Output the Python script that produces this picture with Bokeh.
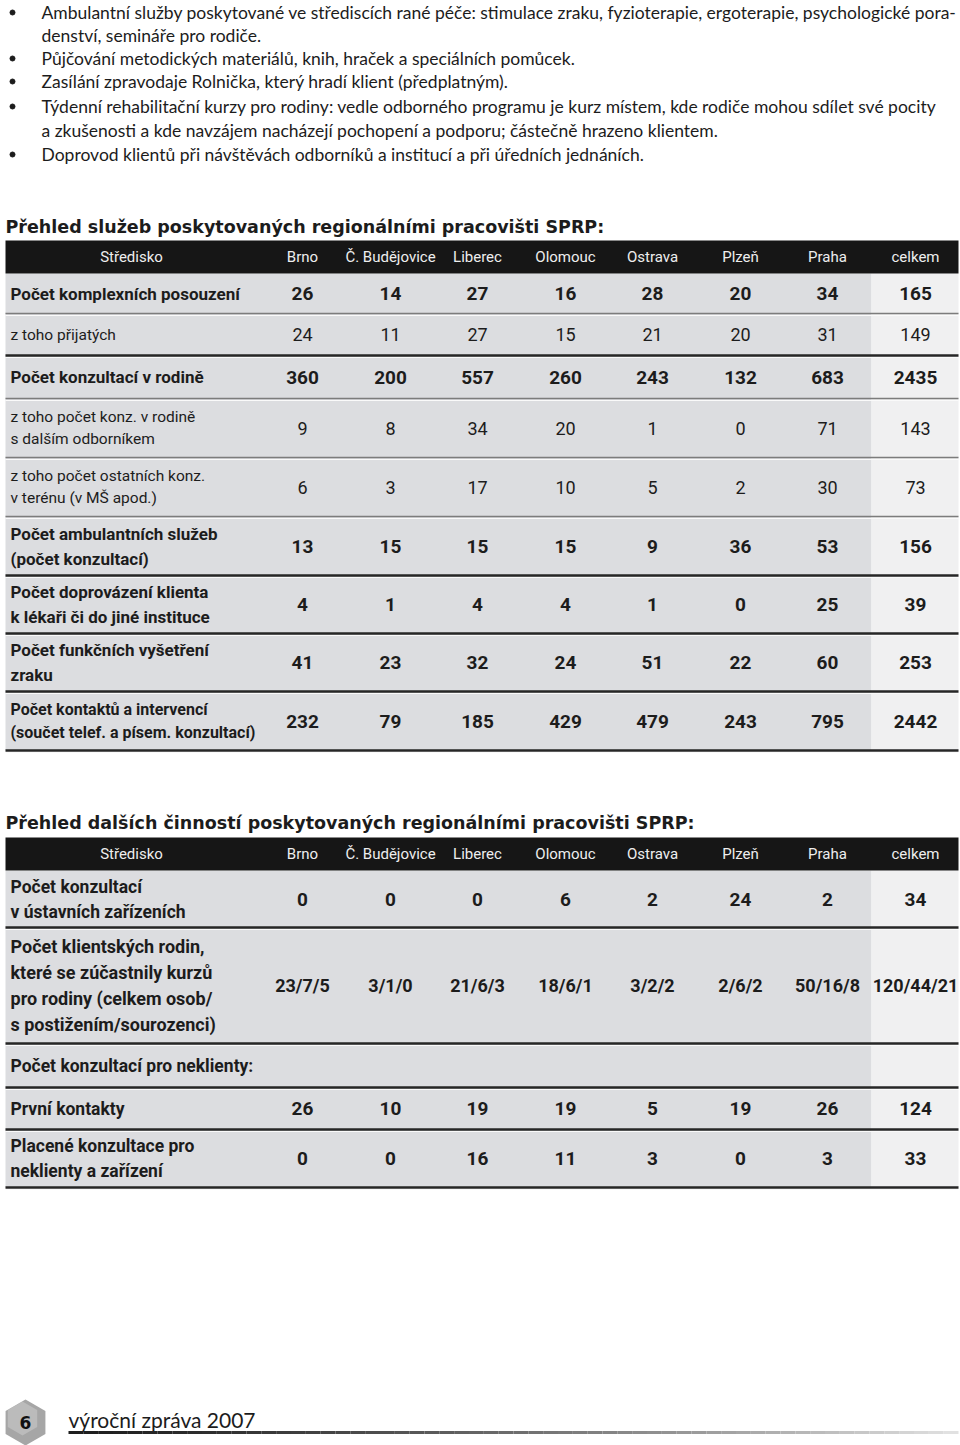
from bokeh.plotting import figure
from bokeh.models import Range1d, ColumnDataSource
from bokeh.core.properties import value
from bokeh.embed import file_html
from bokeh.resources import INLINE
import math

# ---------------- data ----------------
bullet_lines = [
    "Ambulantní služby poskytované ve střediscích rané péče: stimulace zraku, fyzioterapie, ergoterapie, psychologické pora-",
    "denství, semináře pro rodiče.",
    "Půjčování metodických materiálů, knih, hraček a speciálních pomůcek.",
    "Zasílání zpravodaje Rolnička, který hradí klient (předplatným).",
    "Týdenní rehabilitační kurzy pro rodiny: vedle odborného programu je kurz místem, kde rodiče mohou sdílet své pocity",
    "a zkušenosti a kde navzájem nacházejí pochopení a podporu; částečně hrazeno klientem.",
    "Doprovod klientů při návštěvách odborníků a institucí a při úředních jednáních.",
]
bullet_flags = [True, False, True, True, True, False, True]

title1 = "Přehled služeb poskytovaných regionálními pracovišti SPRP:"
title2 = "Přehled dalších činností poskytovaných regionálními pracovišti SPRP:"
header_first = "Středisko"
centres = ["Brno", "Č. Budějovice", "Liberec", "Olomouc", "Ostrava", "Plzeň", "Praha", "celkem"]

t1_labels = [
    "Počet komplexních posouzení",
    "z toho přijatých",
    "Počet konzultací v rodině",
    "z toho počet konz. v rodině\ns dalším odborníkem",
    "z toho počet ostatních konz.\nv terénu (v MŠ apod.)",
    "Počet ambulantních služeb\n(počet konzultací)",
    "Počet doprovázení klienta\nk lékaři či do jiné instituce",
    "Počet funkčních vyšetření\nzraku",
    "Počet kontaktů a intervencí\n(součet telef. a písem. konzultací)",
]
t1_bold = [True, False, True, False, False, True, True, True, True]
t1_values = [
    ["26", "14", "27", "16", "28", "20", "34", "165"],
    ["24", "11", "27", "15", "21", "20", "31", "149"],
    ["360", "200", "557", "260", "243", "132", "683", "2435"],
    ["9", "8", "34", "20", "1", "0", "71", "143"],
    ["6", "3", "17", "10", "5", "2", "30", "73"],
    ["13", "15", "15", "15", "9", "36", "53", "156"],
    ["4", "1", "4", "4", "1", "0", "25", "39"],
    ["41", "23", "32", "24", "51", "22", "60", "253"],
    ["232", "79", "185", "429", "479", "243", "795", "2442"],
]

t2_labels = [
    "Počet konzultací\nv ústavních zařízeních",
    "Počet klientských rodin,\nkteré se zúčastnily kurzů\npro rodiny (celkem osob/\ns postižením/sourozenci)",
    "Počet konzultací pro neklienty:",
    "První kontakty",
    "Placené konzultace pro\nneklienty a zařízení",
]
t2_values = [
    ["0", "0", "0", "6", "2", "24", "2", "34"],
    ["23/7/5", "3/1/0", "21/6/3", "18/6/1", "3/2/2", "2/6/2", "50/16/8", "120/44/21"],
    [],
    ["26", "10", "19", "19", "5", "19", "26", "124"],
    ["0", "0", "16", "11", "3", "0", "3", "33"],
]

footer_page = "6"
footer_text = "výroční zpráva 2007"

# ---------------- layout / style ----------------
BODY = value("Lato")
COND = value("Roboto")
HEAD = value("DejaVu Sans")
INK = "#1c1c1c"
GRAY = "#dcdde0"
LIGHT = "#f0f0f1"

X0, X1, XC = 5, 958, 871
LABEL_X = 10
COL_X = [302, 390, 477, 565, 652, 740, 827, 915]

p = figure(width=960, height=1445, x_range=Range1d(0, 960), y_range=Range1d(1445, 0),
           output_backend="svg", toolbar_location=None, min_border=0)
p.axis.visible = False
p.grid.visible = False
p.outline_line_color = None
p.background_fill_color = "white"
p.border_fill_color = "white"

# bullets
line_y = [12, 35, 58, 81, 106, 130, 154]
p.text(x=[41] * len(bullet_lines), y=line_y, text=bullet_lines, text_font=BODY,
       text_font_size="17.5px", text_baseline="middle", text_align="left", text_color=INK)
by = [y for y, f in zip(line_y, bullet_flags) if f]
p.scatter(x=[12] * len(by), y=by, size=5, color=INK)


def table(title, title_y, head_top, head_bot, bounds, labels, values, bold, thick,
          label_sizes, value_sizes):
    p.text(x=[5], y=[title_y], text=[title], text_font=HEAD, text_font_style="bold",
           text_font_size="17.5px", text_baseline="middle", text_color=INK)
    top, bot = bounds[0], bounds[-1]
    p.quad(left=[X0], right=[XC], top=[top], bottom=[bot], fill_color=GRAY, line_color=None)
    p.quad(left=[XC], right=[X1], top=[top], bottom=[bot], fill_color=LIGHT, line_color=None)
    p.quad(left=[X0], right=[X1], top=[head_top], bottom=[head_bot], fill_color="#161616", line_color=None)
    hy = (head_top + head_bot) / 2
    p.text(x=[131] + COL_X, y=[hy] * 9, text=[header_first] + centres, text_font=COND,
           text_font_size="15px", text_baseline="middle", text_align="center", text_color="#eeeeee")
    for i, lab in enumerate(labels):
        cy = (bounds[i] + bounds[i + 1]) / 2
        style = "bold" if bold[i] else "normal"
        p.text(x=[LABEL_X], y=[cy], text=[lab], text_font=COND, text_font_style=style,
               text_font_size=label_sizes[i], text_baseline="middle",
               text_align="left", text_color=INK, text_line_height=1.25)
        if values[i]:
            src = ColumnDataSource(dict(x=COL_X, y=[cy] * len(values[i]), t=values[i]))
            p.text(x="x", y="y", text="t", source=src, text_font=COND, text_font_style=style,
                   text_font_size=value_sizes[i], text_baseline="middle",
                   text_align="center", text_color=INK)
        yb = bounds[i + 1]
        if thick[i]:
            p.segment(x0=[X0], x1=[X1], y0=[yb], y1=[yb], line_color="#262626", line_width=2.5)
        else:
            p.segment(x0=[X0], x1=[X1], y0=[yb], y1=[yb], line_color="#7c7c7c", line_width=1.5)
        p.segment(x0=[X0], x1=[X1], y0=[yb + 2], y1=[yb + 2], line_color="#fafafa", line_width=1)


table(title1, 226, 240, 273, [273, 313, 355, 398, 457, 516, 575, 633, 691, 750],
      t1_labels, t1_values, t1_bold, [False, True, False, False, False, True, True, True, True],
      ["17px", "15.5px", "17px", "15.5px", "15.5px", "17px", "17px", "17px", "16px"],
      ["19px", "18px", "19px", "18px", "18px", "19px", "19px", "19px", "19px"])
table(title2, 822, 837, 870, [870, 927, 1043, 1087, 1129, 1187],
      t2_labels, t2_values, [True] * 5, [True] * 5,
      ["17.5px", "18px", "17.5px", "17.5px", "17.5px"],
      ["19px", "18px", "19px", "19px", "19px"])

# footer
hx, hy0, r = 25, 1422, 23
p.patch(x=[hx + r * math.cos(math.radians(90 + 60 * k)) for k in range(6)],
        y=[hy0 + r * math.sin(math.radians(90 + 60 * k)) for k in range(6)],
        fill_color="#a6a6a6", line_color=None)
r2 = 17
p.patch(x=[hx - 3 + r2 * math.cos(math.radians(90 + 60 * k)) for k in range(6)],
        y=[hy0 - 4 + r2 * math.sin(math.radians(90 + 60 * k)) for k in range(6)],
        fill_color="#d0d0d0", line_color=None, fill_alpha=0.5)
p.text(x=[hx], y=[hy0], text=[footer_page], text_font=HEAD, text_font_style="bold",
       text_font_size="17px", text_baseline="middle", text_align="center", text_color="#111111")
p.text(x=[68], y=[1419], text=[footer_text], text_font=BODY, text_font_size="21px",
       text_baseline="middle", text_align="left", text_color=INK)
n = 60
xs = [68 + (958 - 68) * k / n for k in range(n + 1)]
cols = []
for k in range(n):
    t = k / (n - 1)
    g = int(30 + (225 - 30) * t ** 1.3)
    cols.append("#%02x%02x%02x" % (g, g, g))
p.segment(x0=xs[:-1], x1=xs[1:], y0=[1432] * n, y1=[1432] * n, line_color=cols, line_width=3)

open("out.html", "w").write(file_html(p, INLINE))
